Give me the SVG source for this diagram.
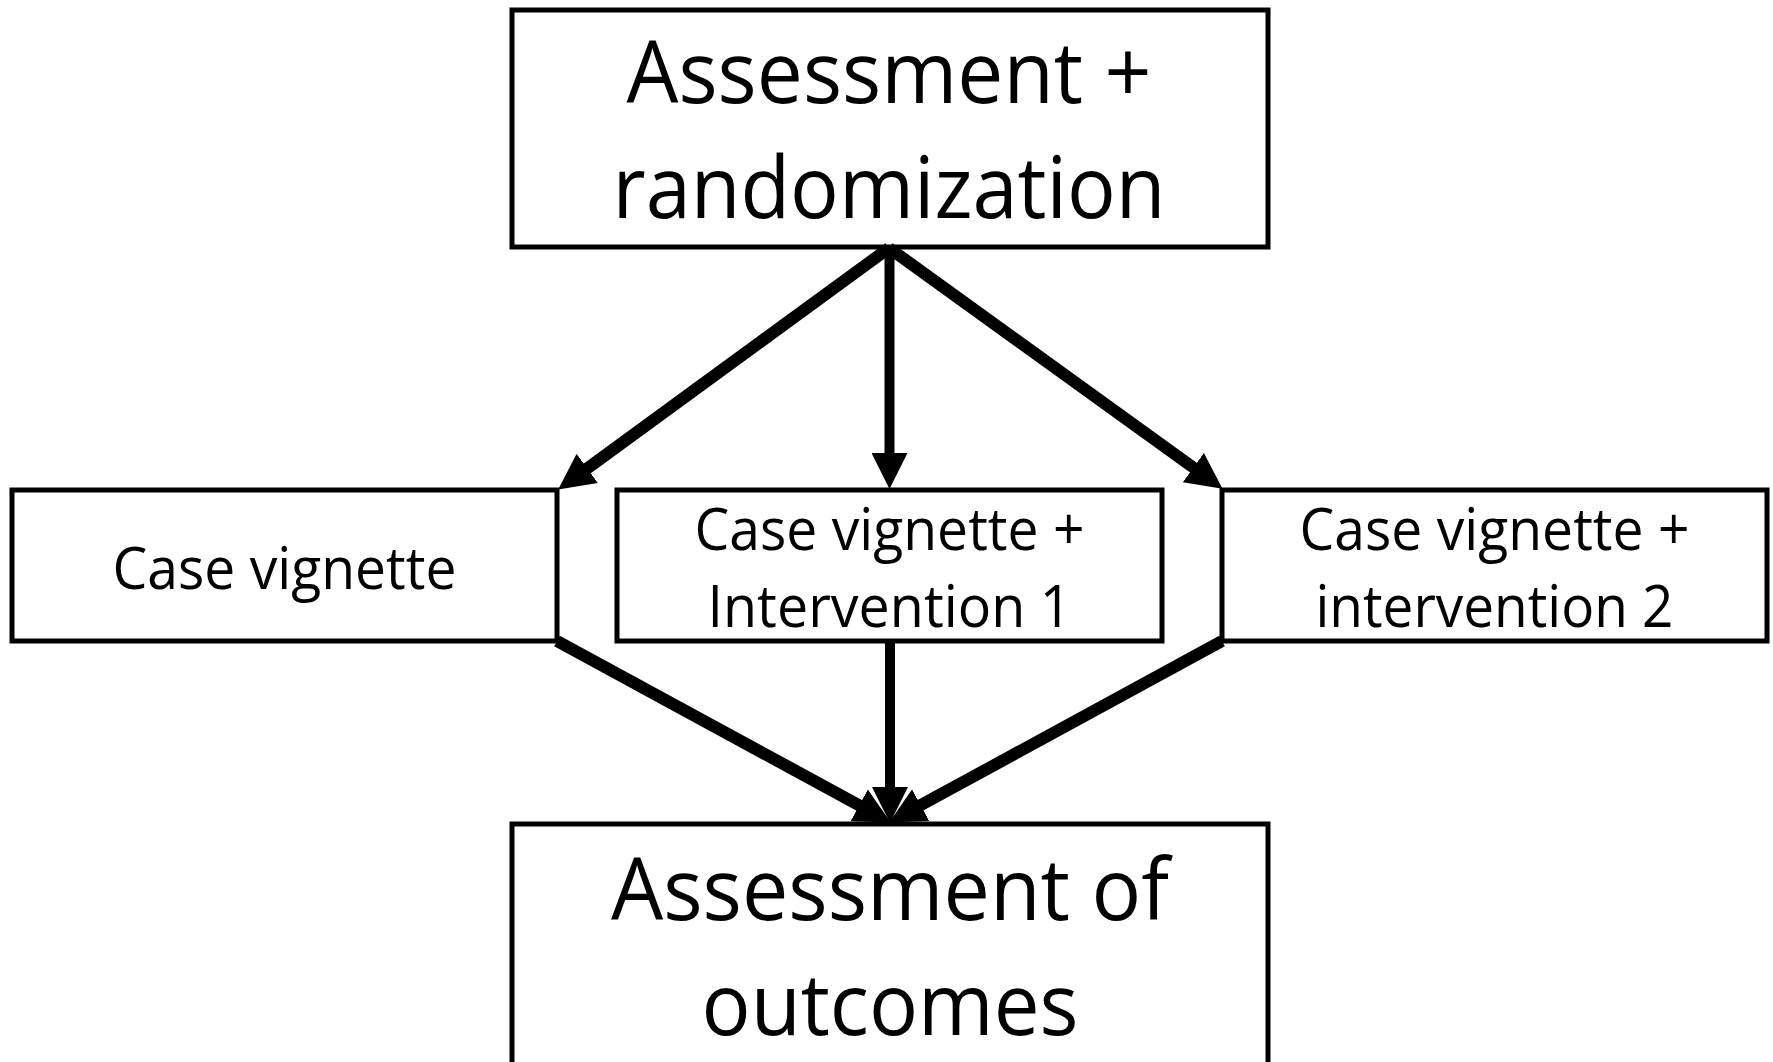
<svg xmlns="http://www.w3.org/2000/svg" width="1773" height="1062" viewBox="0 0 1773 1062">
  <style>
    .box { fill: #ffffff; stroke: #000000; stroke-width: 5; }
    .big { font-family: "Open Sans", "Liberation Sans", sans-serif; font-size: 86px; fill: #000000; text-anchor: middle; }
    .mid { font-family: "Open Sans", "Liberation Sans", sans-serif; font-size: 58px; fill: #000000; text-anchor: middle; }
    .diag { stroke: #000000; stroke-width: 12; fill: none; marker-end: url(#head); }
    .vert { stroke: #000000; stroke-width: 10; fill: none; marker-end: url(#head); }
  </style>
  <defs>
    <marker id="head" viewBox="0 0 36 36" refX="5" refY="18" markerWidth="36" markerHeight="36" markerUnits="userSpaceOnUse" orient="auto">
      <path d="M0,0 L36,18 L0,36 Z" fill="#000000"/>
    </marker>
  </defs>
  <rect width="1773" height="1062" fill="#ffffff"/>

  <g id="start">
    <rect class="box" x="512" y="10" width="756" height="237"/>
    <text class="big" x="889" y="103" textLength="525" lengthAdjust="spacingAndGlyphs">Assessment +</text>
    <text class="big" x="889" y="218" textLength="553" lengthAdjust="spacingAndGlyphs">randomization</text>
  </g>

  <g id="arm-vignette">
    <rect class="box" x="12" y="490" width="545" height="151"/>
    <text class="mid" x="284.5" y="589" textLength="344" lengthAdjust="spacingAndGlyphs">Case vignette</text>
  </g>

  <g id="arm-intervention-1">
    <rect class="box" x="617" y="490" width="545" height="151"/>
    <text class="mid" x="889.5" y="550" textLength="390" lengthAdjust="spacingAndGlyphs">Case vignette +</text>
    <text class="mid" x="889.5" y="627" textLength="364" lengthAdjust="spacingAndGlyphs">Intervention 1</text>
  </g>

  <g id="arm-intervention-2">
    <rect class="box" x="1222" y="490" width="545" height="151"/>
    <text class="mid" x="1494.5" y="550" textLength="390" lengthAdjust="spacingAndGlyphs">Case vignette +</text>
    <text class="mid" x="1494.5" y="627" textLength="358" lengthAdjust="spacingAndGlyphs">intervention 2</text>
  </g>

  <g id="outcomes">
    <rect class="box" x="512" y="824" width="756" height="260"/>
    <text class="big" x="890" y="920" textLength="558" lengthAdjust="spacingAndGlyphs">Assessment of</text>
    <text class="big" x="890" y="1035" textLength="377" lengthAdjust="spacingAndGlyphs">outcomes</text>
  </g>

  <g id="connectors">
    <line class="diag" x1="889" y1="248" x2="583.2" y2="471.3"/>
    <line class="vert" x1="889.5" y1="248" x2="889.5" y2="458"/>
    <line class="diag" x1="889" y1="248" x2="1197.4" y2="470.5"/>
    <line class="vert" x1="890" y1="643" x2="890" y2="792"/>
    <line class="diag" x1="557" y1="641" x2="863.6" y2="807.7"/>
    <line class="diag" x1="1222" y1="641" x2="916.3" y2="807.6"/>
  </g>
</svg>
